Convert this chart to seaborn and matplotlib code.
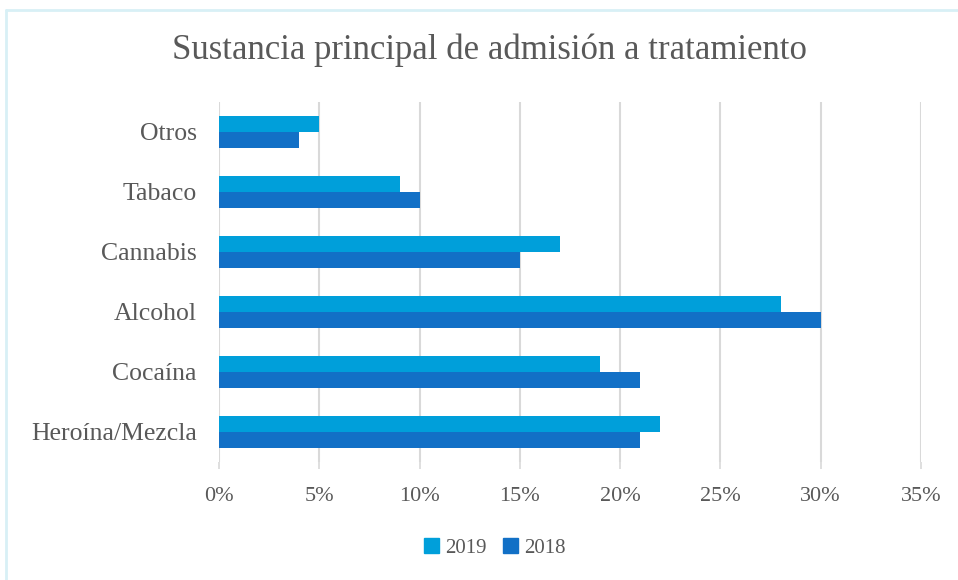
import matplotlib.pyplot as plt
import matplotlib.patches as mpatches
from matplotlib.lines import Line2D
import seaborn as sns
import pandas as pd

CATEGORIES = ["Otros", "Tabaco", "Cannabis", "Alcohol", "Cocaína", "Heroína/Mezcla"]
VALUES_2019 = [5, 9, 17, 28, 19, 22]
VALUES_2018 = [4, 10, 15, 30, 21, 21]
YEARS = ["2019", "2018"]
X_TICKS = [0, 5, 10, 15, 20, 25, 30, 35]
TITLE = "Sustancia principal de admisión a tratamiento"

COLORS = {"2019": "#009fda", "2018": "#1270c6"}
TEXT_COLOR = "#595959"
GRID_COLOR = "#d9d9d9"


def main():
    data = pd.DataFrame({
        "Sustancia": CATEGORIES * 2,
        "Valor": VALUES_2019 + VALUES_2018,
        "Año": [YEARS[0]] * len(CATEGORIES) + [YEARS[1]] * len(CATEGORIES),
    })

    sns.set_theme(style="white")
    plt.rcParams["font.family"] = ["Liberation Serif", "DejaVu Serif"]

    fig = plt.figure(figsize=(9.58, 5.8), dpi=100)
    ax = fig.add_axes([219 / 958, 1 - 462 / 580, (921 - 219) / 958, (462 - 102) / 580])

    sns.barplot(
        data=data, x="Valor", y="Sustancia", hue="Año", hue_order=YEARS,
        palette=COLORS, orient="h", width=0.53, gap=0, saturation=1,
        linewidth=0, legend=False, ax=ax,
    )

    ax.set_xlim(0, 35)
    ax.set_ylim(len(CATEGORIES) - 0.5, -0.5)
    ax.set_xticks(X_TICKS)
    ax.set_xticklabels([f"{t}%" for t in X_TICKS])
    ax.set_xlabel("")
    ax.set_ylabel("")
    ax.grid(axis="x", color=GRID_COLOR, linewidth=1.5)
    ax.set_axisbelow(True)
    for spine in ax.spines.values():
        spine.set_visible(False)
    ax.tick_params(axis="x", bottom=True, length=5, width=1.2, color=GRID_COLOR,
                   labelsize=16, labelcolor=TEXT_COLOR, pad=13)
    ax.tick_params(axis="y", left=False, labelsize=18.5, labelcolor=TEXT_COLOR, pad=10)

    fig.text(490 / 958, 1 - 50 / 580, TITLE, ha="center", va="center",
             fontsize=25, color=TEXT_COLOR)

    handles = [mpatches.Patch(color=COLORS[y], label=y) for y in YEARS]
    fig.legend(handles=handles, loc="center", bbox_to_anchor=(495 / 958, 1 - 548 / 580),
               ncol=2, frameon=False, fontsize=15, handlelength=0.7, handleheight=0.7,
               handletextpad=0.3, columnspacing=0.8, labelcolor=TEXT_COLOR)

    # light chart border (top and left edges visible)
    border = "#d8f0f6"
    fig.add_artist(Line2D([6 / 958, 1], [1 - 10 / 580, 1 - 10 / 580],
                          transform=fig.transFigure, color=border, linewidth=2))
    fig.add_artist(Line2D([6 / 958, 6 / 958], [0, 1 - 10 / 580],
                          transform=fig.transFigure, color=border, linewidth=2))

    fig.savefig("out.png", dpi=100)
    plt.close(fig)


if __name__ == "__main__":
    main()
